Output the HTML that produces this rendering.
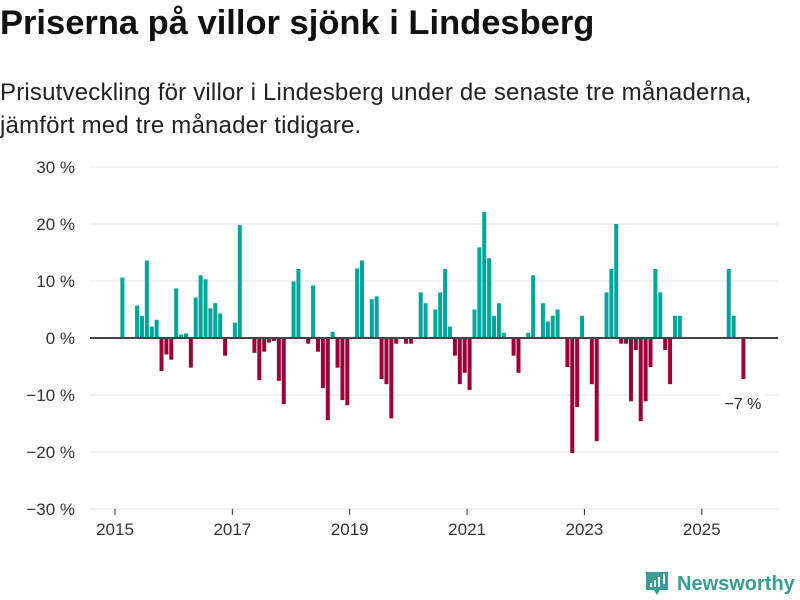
<!DOCTYPE html>
<html><head><meta charset="utf-8"><style>
body{margin:0;background:#fff;font-family:"Liberation Sans","DejaVu Sans",sans-serif;}
#wrap{position:relative;width:800px;height:600px;overflow:hidden;}
h1{position:absolute;left:0;top:4px;margin:0;font-size:34.5px;font-weight:bold;color:#111;letter-spacing:0}
p{position:absolute;left:0;top:76px;margin:0;font-size:24px;line-height:33px;color:#222;width:785px;letter-spacing:0.2px}
</style></head><body>
<div id="wrap">
<h1>Priserna på villor sjönk i Lindesberg</h1>
<p>Prisutveckling för villor i Lindesberg under de senaste tre månaderna, jämfört med tre månader tidigare.</p>
<svg id="chart" width="800" height="600" style="position:absolute;left:0;top:0"></svg>
</div>
<script>
const yTicks=[30,20,10,0,-10,-20,-30];
const yTickLabels=["30 %","20 %","10 %","0 %","−10 %","−20 %","−30 %"];
const xTickYears=[2015,2017,2019,2021,2023,2025];
// monthly values starting Jan 2015 (index 0); null = no data
const months=[];
const values=[
null,10.6,null,null,5.7,3.9,13.6,2.0,3.2,-5.8,-2.9,-3.8,
8.7,0.6,0.8,-5.2,7.1,11.0,10.3,5.2,6.1,4.3,-3.1,null,
2.7,19.8,null,null,-2.6,-7.4,-2.4,-0.8,-0.5,-7.5,-11.6,null,
9.9,12.1,null,-1.0,9.2,-2.4,-8.8,-14.4,1.1,-5.2,-10.9,-11.8,
null,12.2,13.6,null,6.8,7.3,-7.2,-8.1,-14.1,-1.0,null,-1.0,
-1.0,null,8.0,6.1,null,5.0,8.0,12.1,2.0,-3.1,-8.1,-6.1,
-9.1,5.0,15.9,22.1,14.0,3.9,6.1,0.9,null,-3.1,-6.1,null,
0.9,11.0,null,6.1,2.9,3.9,5.0,null,-5.1,-20.2,-12.1,3.9,
null,-8.1,-18.1,null,8.0,12.1,20.0,-1.0,-1.0,-11.1,-2.1,-14.6,
-11.1,-5.1,12.1,8.0,-2.1,-8.1,3.9,3.9,null,null,null,null,
null,null,null,null,null,12.1,3.9,null,-7.2];
const lastLabel="−7 %";
for(let i=0;i<values.length;i++)months.push(i);

const svg=document.getElementById('chart');
const NS='http://www.w3.org/2000/svg';
const y=v=>338-v*5.7;
const x=m=>115+m*4.89;
function mk(t,a){const e=document.createElementNS(NS,t);for(const k in a)e.setAttribute(k,a[k]);svg.appendChild(e);return e;}
yTicks.forEach((t,i)=>{
  const g=mk('line',{x1:90,x2:778,y1:y(t),y2:y(t),stroke:'#e3e3e3','stroke-width':1});
  
  
  const l=mk('text',{x:75,y:y(t)+6,'text-anchor':'end','font-size':17,fill:'#333'});
  l.textContent=yTickLabels[i];
  
  
});
xTickYears.forEach(yr=>{
  const m=(yr-2015)*12;
  const tk=mk('line',{x1:x(m),x2:x(m),y1:509,y2:515,stroke:'#333','stroke-width':1});
  
  
  const l=mk('text',{x:x(m),y:535,'text-anchor':'middle','font-size':17,fill:'#333'});
  l.textContent=yr;
  
  
});
months.forEach(m=>{
  const v=values[m];
  if(v===null)return;
  const top=Math.min(y(v),y(0)),h=Math.abs(y(v)-y(0));
  const r=mk('rect',{x:x(m)+0.5,y:top,width:4,height:h,fill:v>=0?'#00a59b':'#9b0039'});
  
  
});
const z=mk('line',{x1:90,x2:778,y1:y(0),y2:y(0),stroke:'#444','stroke-width':2});


const lm=values.length-1;
const bg=mk('rect',{x:x(lm)-20,y:y(values[lm])+12,width:44,height:22,fill:'#fff'});


const an=mk('text',{x:x(lm)+2,y:y(values[lm])+30,'text-anchor':'middle','font-size':16,fill:'#222'});
an.textContent=lastLabel;


// logo
const lg=mk('g',{});


const p=document.createElementNS(NS,'path');
p.setAttribute('d','M646 572h22v18h-8l-3 5-3-5h-8z');p.setAttribute('fill','#3a9c93');lg.appendChild(p);
[[650,583,3,4],[654,580,3,7],[658,577,3,10],[663,574,3,10]].forEach(b=>{const r=document.createElementNS(NS,'rect');r.setAttribute('x',b[0]);r.setAttribute('y',b[1]);r.setAttribute('width',b[2]-1);r.setAttribute('height',b[3]);r.setAttribute('fill','#fff');lg.appendChild(r);});
const lt=document.createElementNS(NS,'text');
lt.setAttribute('x',677);lt.setAttribute('y',590);lt.setAttribute('font-size',20);lt.setAttribute('fill','#3a9c93');lt.setAttribute('font-weight','bold');
lt.textContent='Newsworthy';lg.appendChild(lt);
</script>
</body></html>
